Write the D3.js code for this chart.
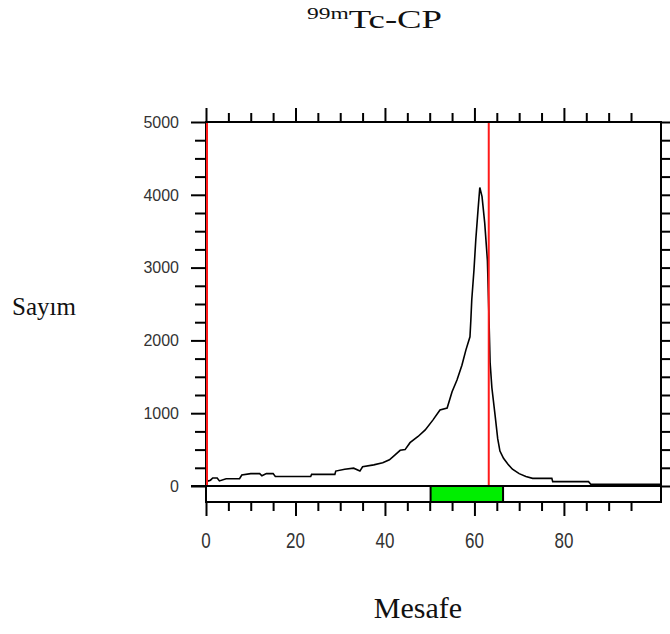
<!DOCTYPE html>
<html>
<head>
<meta charset="utf-8">
<script src="https://cdn.jsdelivr.net/npm/d3@7"></script>
<style>
  body { margin: 0; background: #fff; }
  svg { display: block; }
</style>
</head>
<body>
<div id="display"></div>
<script>
const w = 670;
const h = 634;

// distance (Mesafe) vs count (Sayım)
const distance = [0, 1, 1.5, 2.5, 3, 4.5, 7.5, 8, 10, 12, 12.5, 13.5, 15, 15.5, 23.4, 23.6, 28.8, 29, 31, 33, 34.4, 35, 37.5, 39.5, 41, 42.2, 43.4, 44.5, 45.6, 47.4, 49, 50.7, 52.3, 53.9, 55, 56.1, 57.2, 58.1, 59, 59.2, 59.4, 59.9, 60.3, 60.8, 61.2, 61.7, 62.3, 62.9, 63.2, 63.5, 63.9, 64.6, 65.2, 65.7, 66.5, 67.5, 68.5, 70, 71.5, 73, 77.3, 77.5, 85.5, 86, 101.7];
const counts = [60, 80, 110, 110, 70, 100, 100, 150, 170, 170, 140, 170, 170, 130, 130, 160, 160, 205, 230, 245, 205, 265, 290, 320, 360, 425, 490, 500, 595, 680, 770, 905, 1045, 1070, 1295, 1455, 1660, 1870, 2050, 2280, 2555, 2970, 3380, 3790, 4100, 3975, 3610, 3100, 2420, 1700, 1350, 980, 650, 480, 380, 300, 230, 170, 130, 105, 105, 60, 60, 25, 25];

const markers = [0, 63.2];      // red vertical lines
const region = [50.2, 66.4];    // green band
const xLabels = [0, 20, 40, 60, 80];
const yLabels = [0, 1000, 2000, 3000, 4000, 5000];

const padL = 206, padR = 661, padT = 122, base = 486, stripH = 16;

const xScale = d3.scaleLinear().domain([0, 101.7]).range([padL, padR]);
const yScale = d3.scaleLinear().domain([0, 5000]).range([base, padT]);

const viz = d3.select('#display').append('svg')
    .attr('width', w)
    .attr('height', h);

// title
const title = viz.append('text')
    .attr('x', 307)
    .attr('y', 28)
    .attr('textLength', 135)
    .attr('lengthAdjust', 'spacingAndGlyphs')
    .style('font-family', "'Liberation Serif', 'Times New Roman', serif")
    .style('fill', '#111');
title.append('tspan').attr('font-size', 16).attr('dy', -9).text('99m');
title.append('tspan').attr('font-size', 25).attr('dy', 9).text('Tc-CP');

viz.append('text')
    .attr('x', 12)
    .attr('y', 315)
    .style('font-family', "'Liberation Serif', 'Times New Roman', serif")
    .style('font-size', '25px')
    .style('fill', '#111')
    .text('Sayım');

viz.append('text')
    .attr('x', 418)
    .attr('y', 618)
    .attr('text-anchor', 'middle')
    .style('font-family', "'Liberation Serif', 'Times New Roman', serif")
    .style('font-size', '30px')
    .style('fill', '#111')
    .text('Mesafe');

// ticks
const xTicks = d3.range(0, 100, 5);
const yTicks = d3.range(0, 5001, 250);

const styleAxis = (g) => {
    g.select('.domain').remove();
    g.selectAll('.tick text').remove();
    g.selectAll('.tick line').attr('stroke', '#000').attr('stroke-width', 2);
};

const bottomAxis = viz.append('g')
    .attr('transform', `translate(0,${base + stripH})`)
    .call(d3.axisBottom(xScale).tickValues(xTicks).tickSizeOuter(0).tickFormat(''));
styleAxis(bottomAxis);
bottomAxis.selectAll('.tick line').attr('y2', (d) => d % 20 === 0 ? 14 : 9);

const topAxis = viz.append('g')
    .attr('transform', `translate(0,${padT})`)
    .call(d3.axisTop(xScale).tickValues(xTicks).tickSizeOuter(0).tickFormat(''));
styleAxis(topAxis);
topAxis.selectAll('.tick line').attr('y2', (d) => d % 20 === 0 ? -14 : -9);

const leftAxis = viz.append('g')
    .attr('transform', `translate(${padL},0)`)
    .call(d3.axisLeft(yScale).tickValues(yTicks).tickSizeOuter(0).tickFormat(''));
styleAxis(leftAxis);
leftAxis.selectAll('.tick line').attr('x2', (d) => d % 1000 === 0 ? -15 : -11);

const rightAxis = viz.append('g')
    .attr('transform', `translate(${padR},0)`)
    .call(d3.axisRight(yScale).tickValues(yTicks).tickSizeOuter(0).tickFormat(''));
styleAxis(rightAxis);
rightAxis.selectAll('.tick line').attr('x2', (d) => d % 1000 === 0 ? 15 : 11);

// labels
viz.append('g').selectAll('text')
    .data(yLabels)
    .enter()
    .append('text')
    .attr('x', padL - 27)
    .attr('y', (d) => yScale(d))
    .attr('dy', '0.36em')
    .attr('text-anchor', 'end')
    .style('font-family', "'Liberation Sans', Arial, sans-serif")
    .style('font-size', '16px')
    .style('fill', '#333')
    .text((d) => d);

viz.append('g').selectAll('text')
    .data(xLabels)
    .enter()
    .append('text')
    .attr('transform', (d) => `translate(${xScale(d)},548) scale(1,1.3)`)
    .attr('text-anchor', 'middle')
    .style('font-family', "'Liberation Sans', Arial, sans-serif")
    .style('font-size', '17px')
    .style('fill', '#333')
    .text((d) => d);

// frame and strip
viz.append('rect')
    .attr('x', padL)
    .attr('y', padT)
    .attr('width', padR - padL)
    .attr('height', base + stripH - padT)
    .attr('fill', 'none')
    .attr('stroke', '#000')
    .attr('stroke-width', 2);

viz.append('rect')
    .attr('x', xScale(region[0]))
    .attr('y', base)
    .attr('width', xScale(region[1]) - xScale(region[0]))
    .attr('height', stripH)
    .attr('fill', '#00ee00')
    .attr('stroke', '#000')
    .attr('stroke-width', 2);

viz.append('line')
    .attr('x1', padL - 15)
    .attr('x2', padR)
    .attr('y1', base)
    .attr('y2', base)
    .attr('stroke', '#000')
    .attr('stroke-width', 2);

// curve
const pts = distance.map((d, i) => ({ d: d, c: counts[i] }));
const lineMaker = d3.line()
    .x((p) => xScale(p.d))
    .y((p) => yScale(p.c));

viz.append('path')
    .datum(pts)
    .attr('d', lineMaker)
    .attr('fill', 'none')
    .attr('stroke', '#000')
    .attr('stroke-width', 1.6);

// red markers
viz.append('g').selectAll('line')
    .data(markers)
    .enter()
    .append('line')
    .attr('x1', (d) => xScale(d) + (d === 0 ? 1 : 0))
    .attr('x2', (d) => xScale(d) + (d === 0 ? 1 : 0))
    .attr('y1', padT + 1)
    .attr('y2', base - 1)
    .attr('stroke', '#ff1a1a')
    .attr('stroke-width', 2);
</script>
</body>
</html>
